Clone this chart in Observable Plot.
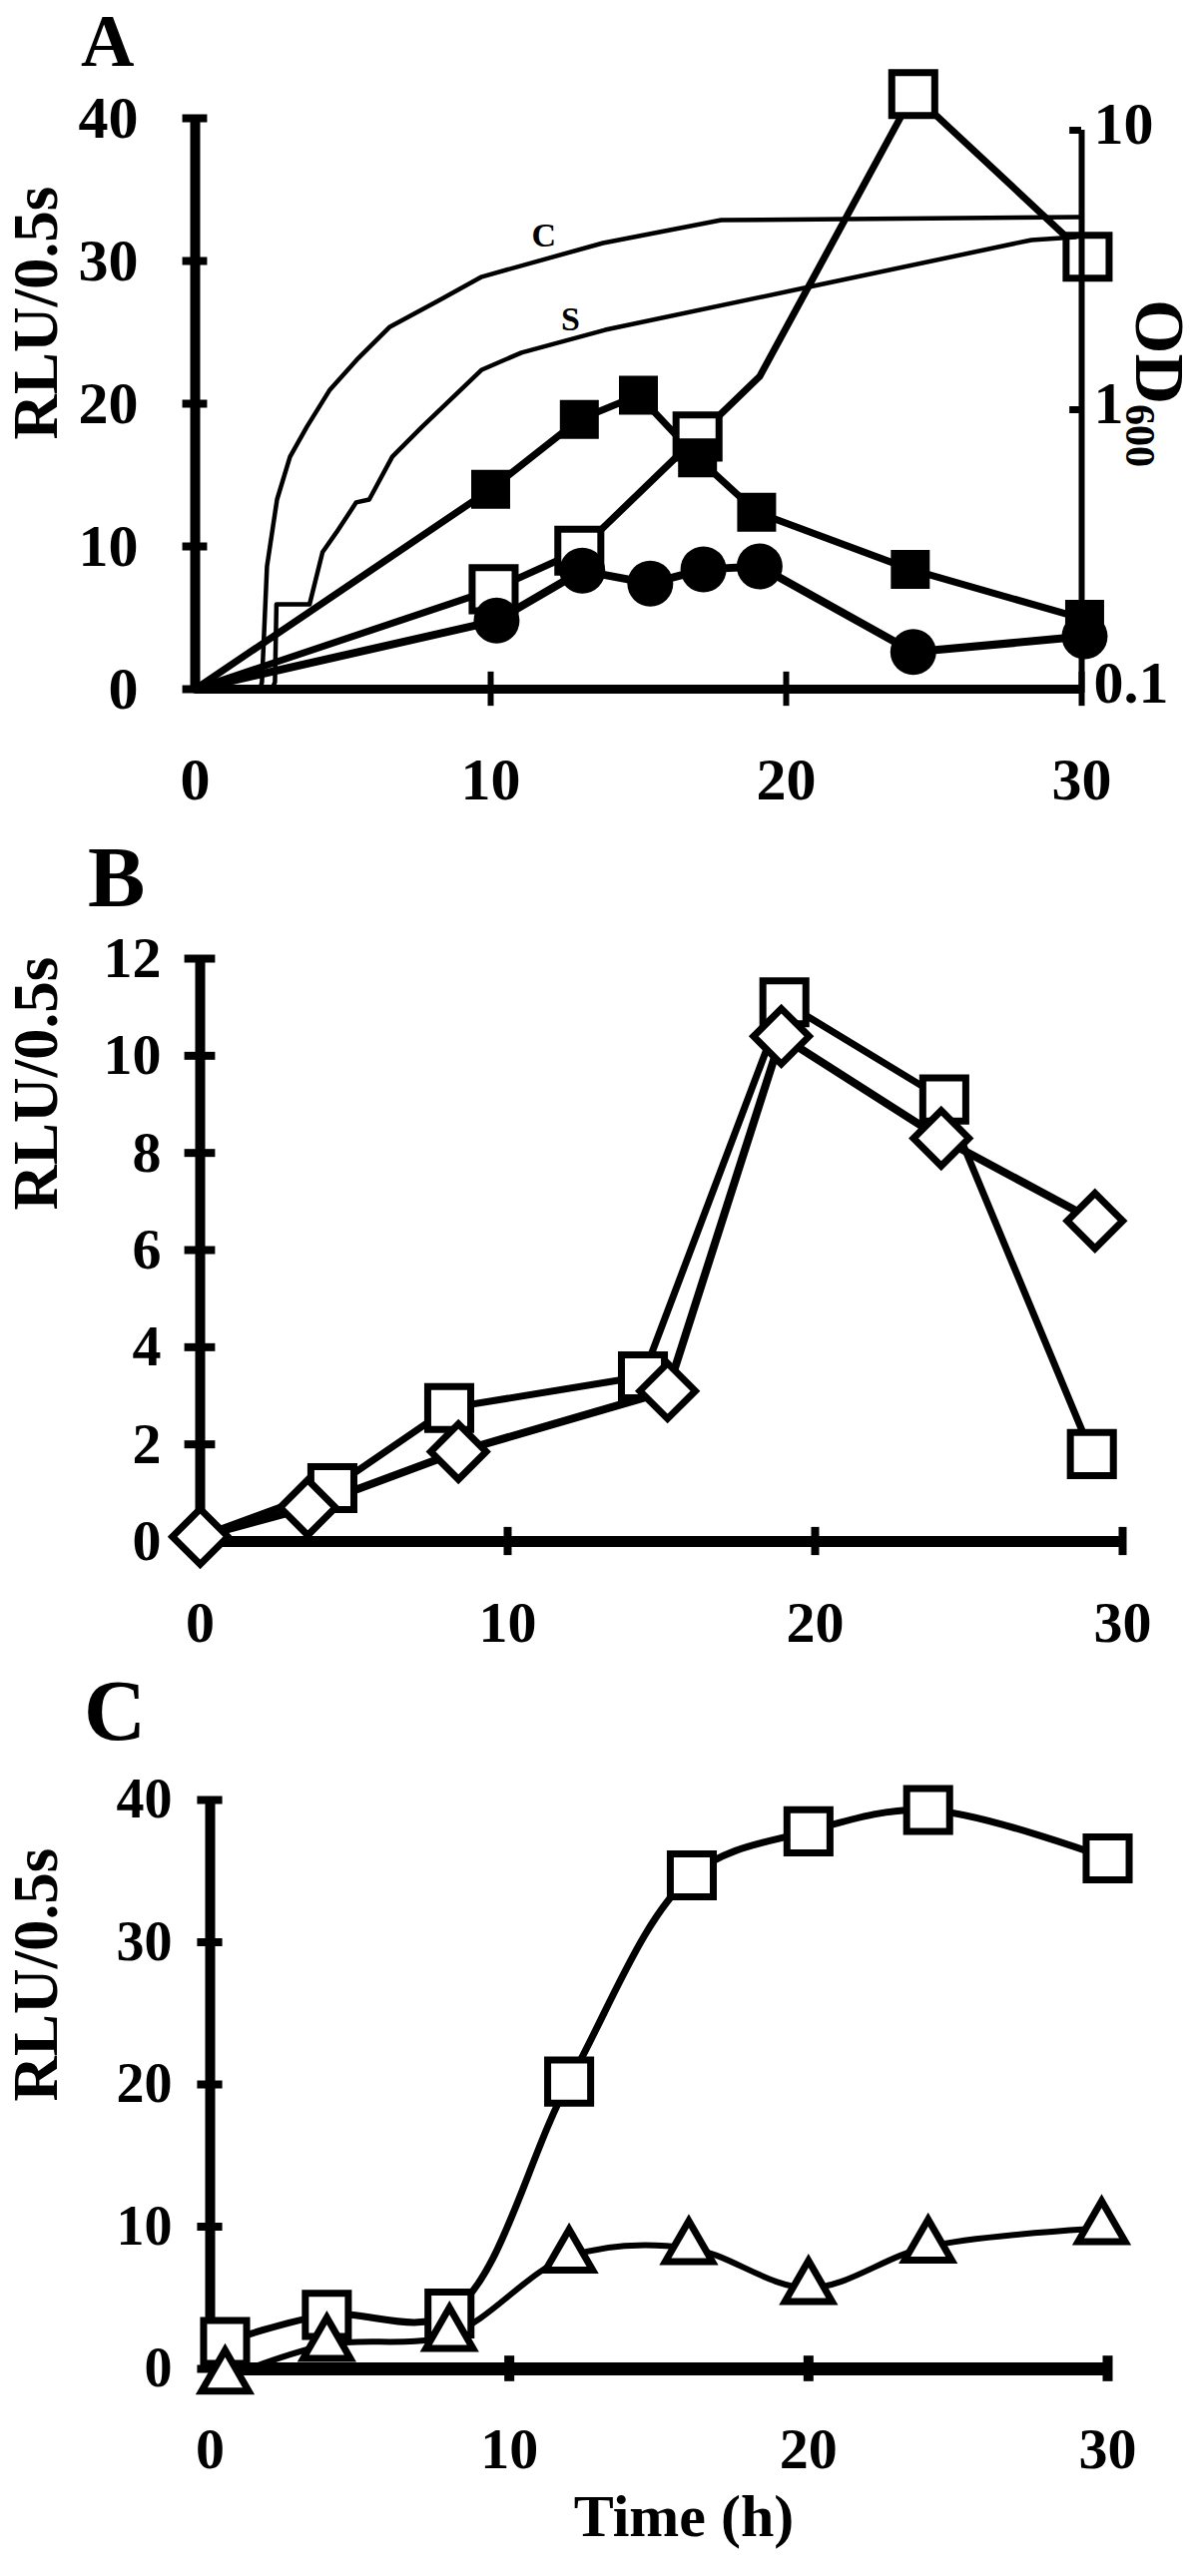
<!DOCTYPE html>
<html><head><meta charset="utf-8">
<script src="https://cdn.jsdelivr.net/npm/d3@7"></script>
<script src="https://cdn.jsdelivr.net/npm/@observablehq/plot@0.6"></script>
<style>
html,body{margin:0;padding:0;background:#fff;}
#page{position:relative;width:1200px;height:2581px;overflow:hidden;background:#fff;font-family:"Liberation Serif","Times New Roman",serif;}
.panel{position:absolute;left:0;}
.plab{position:absolute;font-weight:bold;font-size:86px;line-height:62px;white-space:nowrap;}
#od{position:absolute;font-weight:bold;font-size:70px;line-height:56px;white-space:nowrap;transform-origin:0 0;transform:rotate(90deg);}
#od sub{font-size:42px;vertical-align:baseline;position:relative;top:10px;}
</style></head><body><div id="page"></div>
<script>
// ---------- Panel A data ----------
const aRluTicks = [0, 10, 20, 30, 40];
const aTimeTicks = [0, 10, 20, 30];
const aOdTicks = [0.1, 1, 10];
const aOdTickLabels = ["0.1", "1", "10"];
// open squares (RLU)
const aOpenT = [0, 10.1, 13, 17, 24.3, 30.2];
const aOpenV = [0, 7, 9.7, 17.7, 41.7, 30.3];
const aOpenBendT = [19.1];
const aOpenBendV = [21.9];
// filled squares (RLU)
const aFillT = [0, 10, 13, 15, 17, 19, 24.2, 30.1];
const aFillV = [0, 14, 18.9, 20.6, 16.2, 12.4, 8.4, 4.9];
// filled circles (RLU)
const aCircT = [0, 10.2, 13.1, 15.4, 17.2, 19.1, 24.3, 30.1];
const aCircV = [0, 4.8, 8.3, 7.4, 8.4, 8.6, 2.6, 3.7];
// growth curves OD600 (log axis)
const aOdCT = [0, 2.2, 2.26, 2.43, 2.77, 3.21, 3.78, 4.56, 5.47, 6.59, 8.28, 9.7, 13.8, 17.8, 29.9];
const aOdCV = [0.1, 0.1, 0.106, 0.275, 0.477, 0.679, 0.869, 1.18, 1.51, 1.98, 2.47, 2.99, 3.95, 4.77, 4.89];
const aOdST = [0, 2.6, 2.7, 2.75, 3.87, 4.31, 4.78, 5.45, 5.89, 6.67, 7.68, 9.7, 11.04, 13.87, 20.77, 28.3, 29.8];
const aOdSV = [0.1, 0.1, 0.106, 0.201, 0.201, 0.309, 0.364, 0.466, 0.477, 0.679, 0.869, 1.39, 1.6, 1.93, 2.75, 4.05, 4.15];
const aCurveNames = ["C", "S"];
const aCurveNameT = [11.8, 12.7];
const aCurveNameV = [4.2, 2.1];

// ---------- Panel B data ----------
const bRluTicks = [0, 2, 4, 6, 8, 10, 12];
const bTimeTicks = [0, 10, 20, 30];
const bSqT = [0, 4.3, 8.1, 14.4, 19, 24.2, 29];
const bSqV = [0.1, 1.1, 2.75, 3.4, 11.1, 9.1, 1.8];
const bDiaT = [0, 3.5, 8.4, 15.2, 18.9, 24.1, 29.1];
const bDiaV = [0.1, 0.7, 1.85, 3.1, 10.4, 8.3, 6.6];

// ---------- Panel C data ----------
const cRluTicks = [0, 10, 20, 30, 40];
const cTimeTicks = [0, 10, 20, 30];
const cSqT = [0.5, 3.9, 8, 12, 16.1, 20, 24, 30];
const cSqV = [1.9, 3.8, 3.9, 20.2, 34.7, 37.8, 39.3, 35.9];
const cTriT = [0.5, 3.9, 8, 12, 16, 20, 24, 29.8];
const cTriV = [-0.6, 1.7, 2.4, 7.9, 8.5, 5.7, 8.6, 9.9];

const yLabel = "RLU/0.5s";
const xLabel = "Time (h)";

// ---------- helpers ----------
const zip = (t, v) => t.map((x, i) => ({t: x, v: v[i]}));
const byT = (a, b) => a.t - b.t;
const FONT = '"Liberation Serif","Times New Roman",serif';
const baseStyle = {background: "transparent", overflow: "visible", fontFamily: FONT, color: "black"};
const page = document.getElementById("page");
function place(svg, top) {
  const d = document.createElement("div");
  d.className = "panel";
  d.style.top = top + "px";
  d.appendChild(svg);
  page.appendChild(d);
}
function frameMarks(o) {
  // axis lines, crossing ticks and tick labels for a linear RLU panel
  return [
    Plot.ruleX([0], {y1: 0, y2: o.yMax, stroke: "black", strokeWidth: o.yAxisW}),
    Plot.ruleY(o.yTicks, {y: d => d, x1: -o.yTickHalf, x2: o.yTickHalf, stroke: "black", strokeWidth: 8}),
    Plot.ruleY([0], {x1: 0, x2: 30, stroke: "black", strokeWidth: o.xAxisW}),
    Plot.ruleX(o.xTicks.filter(d => d > 0), {x: d => d, y1: -o.xTickHalf, y2: o.xTickHalf, stroke: "black", strokeWidth: o.xTickW}),
    Plot.axisY({ticks: o.yTicks, tickSize: 0, tickPadding: o.yPad, fontSize: o.yFont, fontWeight: "bold", label: null, tickFormat: d => String(d)}),
    Plot.axisX({ticks: o.xTicks, tickSize: 0, tickPadding: o.xPad, fontSize: o.xFont, fontWeight: "bold", label: null, tickFormat: d => String(d)}),
    Plot.text([yLabel], {text: d => d, frameAnchor: "left", rotate: -90, dx: o.labDx, dy: o.labDy, fontSize: 63, fontWeight: "bold"})
  ];
}

// ---------- Panel A ----------
const aOpen = zip(aOpenT, aOpenV);
const aOpenLine = aOpen.concat(zip(aOpenBendT, aOpenBendV)).sort(byT);
const aFill = zip(aFillT, aFillV);
const aCirc = zip(aCircT, aCircV);
const A = Plot.plot({
  width: 1200, height: 830,
  marginTop: 118, marginBottom: 140, marginLeft: 195, marginRight: 117,
  x: {domain: [0, 30]},
  y: {domain: [0, 40]},
  style: baseStyle,
  marks: [
    ...frameMarks({yMax: 40, yTicks: aRluTicks, xTicks: aTimeTicks, yAxisW: 10, xAxisW: 9, yTickHalf: 0.42, xTickHalf: 1.2, xTickW: 6, yPad: 57, xPad: 68, yFont: 60, xFont: 60, labDx: -159, labDy: 36}),
    Plot.line(aOpenLine, {x: "t", y: "v", stroke: "black", strokeWidth: 7}),
    Plot.line(aFill, {x: "t", y: "v", stroke: "black", strokeWidth: 7}),
    Plot.line(aCirc, {x: "t", y: "v", stroke: "black", strokeWidth: 8}),
    Plot.dot(aOpen.filter(d => d.t > 0), {x: "t", y: "v", symbol: "square", r: 24.3, fill: "white", stroke: "black", strokeWidth: 7}),
    Plot.dot(aFill.filter(d => d.t > 0), {x: "t", y: "v", symbol: "square", r: 22, fill: "black", stroke: "none"}),
    Plot.dot(aCirc.filter(d => d.t > 0), {x: "t", y: "v", symbol: "circle", r: 23, fill: "black", stroke: "none"})
  ]
});
place(A, 0);

const AOD = Plot.plot({
  width: 1200, height: 830,
  marginTop: 118, marginBottom: 140, marginLeft: 195, marginRight: 117,
  x: {domain: [0, 30], axis: null},
  y: {type: "log", domain: [0.1, 11.04]},
  style: baseStyle,
  marks: [
    Plot.line(zip(aOdCT, aOdCV), {x: "t", y: "v", stroke: "black", strokeWidth: 4.5}),
    Plot.line(zip(aOdST, aOdSV), {x: "t", y: "v", stroke: "black", strokeWidth: 4.5}),
    Plot.text(aCurveNames, {x: (d, i) => aCurveNameT[i], y: (d, i) => aCurveNameV[i], text: d => d, fontSize: 34, fontWeight: "bold"}),
    Plot.ruleX([30], {y1: 0.097, y2: 10, stroke: "black", strokeWidth: 6}),
    Plot.ruleY(aOdTicks, {y: d => d, x1: 29.6, x2: 30, stroke: "black", strokeWidth: 7}),
    Plot.axisY({anchor: "right", ticks: aOdTicks, tickSize: 0, tickPadding: 12, dy: -6, fontSize: 60, fontWeight: "bold", label: null,
      tickFormat: d => aOdTickLabels[aOdTicks.indexOf(d)]})
  ]
});
place(AOD, 0);

// ---------- Panel B ----------
const bSq = zip(bSqT, bSqV);
const bDia = zip(bDiaT, bDiaV);
const B = Plot.plot({
  width: 1200, height: 870,
  marginTop: 130, marginBottom: 156, marginLeft: 200, marginRight: 76,
  x: {domain: [0, 30]},
  y: {domain: [0, 12]},
  style: baseStyle,
  marks: [
    ...frameMarks({yMax: 12, yTicks: bRluTicks, xTicks: bTimeTicks, yAxisW: 10, xAxisW: 11, yTickHalf: 0.5, xTickHalf: 0.29, xTickW: 8, yPad: 39, xPad: 59, yFont: 58, xFont: 58, labDx: -164, labDy: -40}),
    Plot.line(bSq, {x: "t", y: "v", stroke: "black", strokeWidth: 7}),
    Plot.line(bDia, {x: "t", y: "v", stroke: "black", strokeWidth: 8}),
    Plot.dot(bSq.filter(d => d.t > 0), {x: "t", y: "v", symbol: "square", r: 24.3, fill: "white", stroke: "black", strokeWidth: 7}),
    Plot.dot(bDia, {x: "t", y: "v", symbol: "diamond2", r: 25, fill: "white", stroke: "black", strokeWidth: 7})
  ]
});
place(B, 830);

// ---------- Panel C ----------
const cSq = zip(cSqT, cSqV);
const cTri = zip(cTriT, cTriV);
const C = Plot.plot({
  width: 1200, height: 881,
  marginTop: 103, marginBottom: 208, marginLeft: 210, marginRight: 91,
  x: {domain: [0, 30]},
  y: {domain: [0, 40]},
  style: baseStyle,
  marks: [
    ...frameMarks({yMax: 40, yTicks: cRluTicks, xTicks: cTimeTicks, yAxisW: 10, xAxisW: 13, yTickHalf: 0.42, xTickHalf: 0.9, xTickW: 10, yPad: 38, xPad: 58, yFont: 56, xFont: 58, labDx: -174, labDy: 17}),
    Plot.line(cSq, {x: "t", y: "v", stroke: "black", strokeWidth: 7, curve: "catmull-rom"}),
    Plot.line(cTri, {x: "t", y: "v", stroke: "black", strokeWidth: 6, curve: "catmull-rom"}),
    Plot.dot(cSq, {x: "t", y: "v", symbol: "square", r: 24.3, fill: "white", stroke: "black", strokeWidth: 7}),
    Plot.dot(cTri, {x: "t", y: "v", symbol: "triangle", r: 17.5, fill: "white", stroke: "black", strokeWidth: 7}),
    Plot.text([xLabel], {text: d => d, frameAnchor: "bottom", dx: 25, dy: 167, fontSize: 60, fontWeight: "bold"})
  ]
});
place(C, 1700);

// ---------- panel letters and right-axis title ----------
[["A", 81, 4, 74, 74], ["B", 88, 848, 86, 62], ["C", 84, 1683, 86, 62]].forEach(([t, l, tp, fs, lh]) => {
  const d = document.createElement("div");
  d.className = "plab";
  d.style.left = l + "px";
  d.style.top = tp + "px";
  d.style.fontSize = fs + "px";
  d.style.lineHeight = lh + "px";
  d.textContent = t;
  page.appendChild(d);
});
const od = document.createElement("div");
od.id = "od";
od.style.left = "1189px";
od.style.top = "300px";
od.innerHTML = "OD<sub>600</sub>";
page.appendChild(od);
</script>
</body></html>
